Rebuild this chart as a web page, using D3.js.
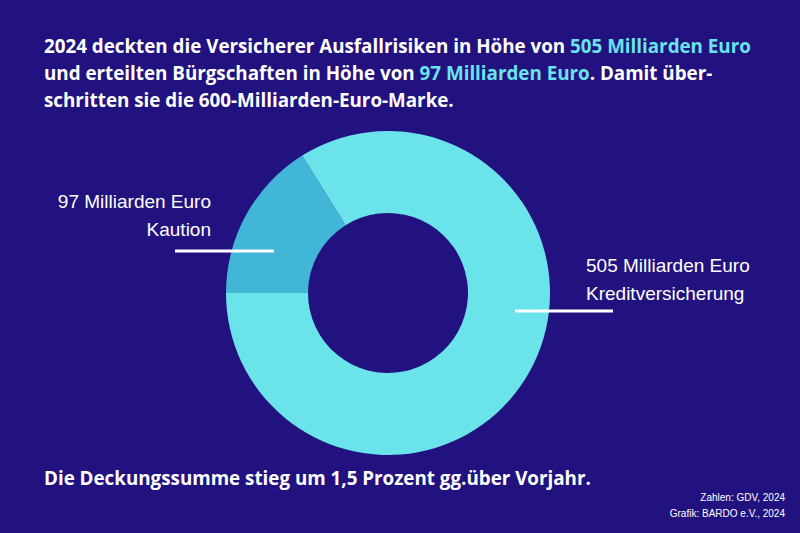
<!DOCTYPE html>
<html><head><meta charset="utf-8">
<script src="https://cdn.jsdelivr.net/npm/d3@7"></script>
<style>
body{margin:0;background:#22127f;}
svg{display:block;}
</style></head>
<body>
<svg id="chart" width="800" height="533"></svg>
<script>
// Daten
const categories = ['Kaution', 'Kreditversicherung'];
const values = [97, 505];
const valueLabels = ['97 Milliarden Euro', '505 Milliarden Euro'];
const colors = ['#41b6d6', '#6ae4ea'];

const svg = d3.select('#chart');
const W = 800, H = 533;
svg.append('rect').attr('width', W).attr('height', H).attr('fill', '#22127f');

// Titel
const title = svg.append('text')
    .attr('font-family', '"Open Sans", sans-serif')
    .attr('font-weight', 700).attr('font-size', 18.8).attr('fill', '#fff');
const lines = [
    [['2024 deckten die Versicherer Ausfallrisiken in Höhe von ', false], ['505 Milliarden Euro', true]],
    [['und erteilten Bürgschaften in Höhe von ', false], ['97 Milliarden Euro', true], ['. Damit über-', false]],
    [['schritten sie die 600-Milliarden-Euro-Marke.', false]]
];
lines.forEach((ln, i) => {
    ln.forEach(([t, hi], j) => {
        const ts = title.append('tspan').text(t).attr('fill', hi ? '#6ae4ea' : '#fff');
        if (j === 0) ts.attr('x', 44).attr('y', 53 + i * 27);
    });
});

// Donut (Kaution beginnt auf 9 Uhr)
const cx = 388, cy = 293;
const start = -Math.PI / 2;
const pie = d3.pie().sort(null).value(d => d)
    .startAngle(start).endAngle(start + 2 * Math.PI);
const arc = d3.arc().innerRadius(80).outerRadius(162);
const g = svg.append('g').attr('transform', `translate(${cx},${cy})`);
g.selectAll('path').data(pie(values)).join('path')
    .attr('d', arc).attr('fill', (d, i) => colors[i]);

// Beschriftungen
const lab = svg.append('g').attr('font-family', '"Liberation Sans", Arial, sans-serif')
    .attr('font-size', 19).attr('fill', '#fff');
lab.append('text').attr('x', 211).attr('y', 208).attr('text-anchor', 'end').text(valueLabels[0]);
lab.append('text').attr('x', 211).attr('y', 236).attr('text-anchor', 'end').text(categories[0]);
lab.append('text').attr('x', 586).attr('y', 272).text(valueLabels[1]);
lab.append('text').attr('x', 586).attr('y', 300).text(categories[1]);
svg.append('line').attr('x1', 175).attr('x2', 274).attr('y1', 251).attr('y2', 251)
    .attr('stroke', '#fff').attr('stroke-width', 3);
svg.append('line').attr('x1', 515).attr('x2', 613).attr('y1', 311).attr('y2', 311)
    .attr('stroke', '#fff').attr('stroke-width', 3);

// Fußzeile
svg.append('text').attr('x', 44).attr('y', 485)
    .attr('font-family', '"Open Sans", sans-serif').attr('font-weight', 700)
    .attr('font-size', 18.8).attr('fill', '#fff')
    .text('Die Deckungssumme stieg um 1,5 Prozent gg.über Vorjahr.');
const src = svg.append('g').attr('font-family', '"Liberation Sans", Arial, sans-serif')
    .attr('font-size', 10).attr('fill', '#fff').attr('text-anchor', 'end');
src.append('text').attr('x', 785).attr('y', 501).text('Zahlen: GDV, 2024');
src.append('text').attr('x', 785).attr('y', 517).text('Grafik: BARDO e.V., 2024');
</script>
</body></html>
